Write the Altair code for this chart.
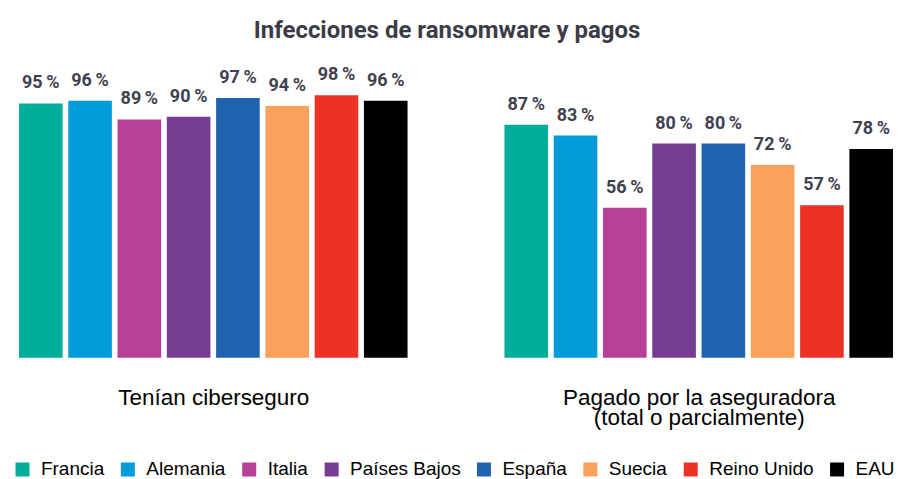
import altair as alt
import pandas as pd

countries = ["Francia", "Alemania", "Italia", "Países Bajos", "España", "Suecia", "Reino Unido", "EAU"]
colors = ["#00AE9A", "#009BDB", "#B83F96", "#763B93", "#1F63AE", "#F8A05C", "#EE3125", "#000000"]
insured = [95, 96, 89, 90, 97, 94, 98, 96]
paid = [87, 83, 56, 80, 80, 72, 57, 78]
group_titles = [["Tenían ciberseguro"], ["Pagado por la aseguradora", "(total o parcialmente)"]]
chart_title = "Infecciones de ransomware y pagos"

COND = "Roboto, sans-serif"
SANS = "Liberation Sans, Arial, sans-serif"


def panel(values, title, show_legend):
    df = pd.DataFrame({"country": countries, "value": values})
    df["label"] = [f"{v}\u2009%" for v in values]
    base = alt.Chart(df).encode(
        x=alt.X(
            "country:N",
            sort=countries,
            scale=alt.Scale(paddingInner=0.115, paddingOuter=0),
            axis=alt.Axis(
                title=title,
                labels=False,
                ticks=False,
                domain=False,
                grid=False,
                titleFont=SANS,
                titleFontSize=22.5,
                titleFontWeight="normal",
                titleColor="#000000",
                titlePadding=29,
                titleLineHeight=20,
            ),
        ),
        y=alt.Y("value:Q", scale=alt.Scale(domain=[0, 110]), axis=None),
    )
    bars = base.mark_bar().encode(
        color=alt.Color(
            "country:N",
            sort=countries,
            scale=alt.Scale(domain=countries, range=colors),
            legend=alt.Legend(
                title=None,
                orient="none",
                direction="horizontal",
                legendX=-6,
                legendY=397,
                symbolType="square",
                symbolSize=196,
                symbolStrokeWidth=0,
                symbolOpacity=1,
                labelFont=SANS,
                labelFontSize=19,
                labelColor="#000000",
                labelOffset=9,
                columnPadding=13.5,
                labelLimit=300,
            ) if show_legend else None,
        )
    )
    text = base.mark_text(
        font=COND,
        fontSize=18,
        fontWeight="bold",
        color="#3F4150",
        baseline="alphabetic",
        dy=-15,
    ).encode(text="label:N")
    return (bars + text).properties(width=389, height=295)


chart = (
    alt.hconcat(panel(insured, group_titles[0], True), panel(paid, group_titles[1], False), spacing=97)
    .properties(
        title=alt.TitleParams(
            chart_title,
            font=COND,
            fontSize=24,
            fontWeight="bold",
            color="#3B3C48",
            anchor="middle",
            offset=20,
            dx=-7,
        ),
        padding={"left": 5, "top": 11, "right": 0, "bottom": 0},
    )
    .configure_view(stroke=None)
)

chart.save("out.html", embed_options={"renderer": "svg", "actions": False})
